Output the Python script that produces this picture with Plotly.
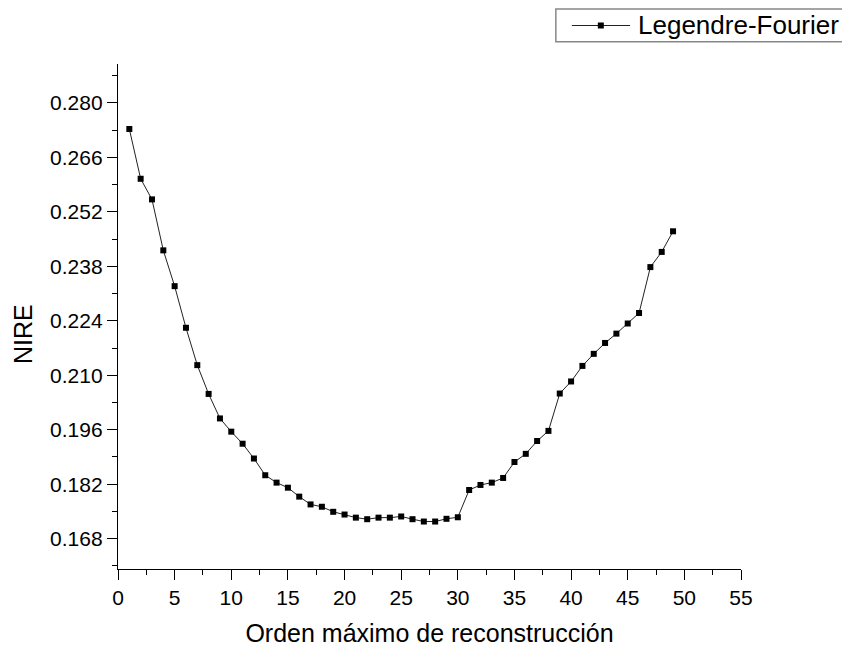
import plotly.graph_objects as go

orden = list(range(1, 50))
nire = [0.2733, 0.2605, 0.2552, 0.2421, 0.2329, 0.2222, 0.2126, 0.2052, 0.1989, 0.1955,
        0.1924, 0.1886, 0.1843, 0.1824, 0.1811, 0.1788, 0.1768, 0.1762, 0.1749, 0.1742,
        0.1734, 0.1730, 0.1734, 0.1734, 0.1737, 0.1730, 0.1724, 0.1724, 0.1731, 0.1735,
        0.1805, 0.1818, 0.1824, 0.1836, 0.1877, 0.1898, 0.1931, 0.1957, 0.2053, 0.2084,
        0.2124, 0.2155, 0.2183, 0.2207, 0.2233, 0.2260, 0.2378, 0.2417, 0.2470]

series_name = "Legendre-Fourier"
x_title = "Orden máximo de reconstrucción"
y_title = "NIRE"

FONT = "Liberation Sans, Arial, Helvetica, sans-serif"

W, H = 842, 647
ML, MR, MT, MB = 117.5, 101, 64, 78
PW, PH = W - ML - MR, H - MT - MB


def px(xpix):
    return (xpix - ML) / PW


def py(ypix):
    return (H - MB - ypix) / PH


fig = go.Figure()
fig.add_trace(go.Scatter(
    x=orden, y=nire, mode="lines+markers", name=series_name,
    line=dict(color="#222222", width=1),
    marker=dict(symbol="square", size=6, color="black"),
    showlegend=False,
))

axis_common = dict(
    showline=True, linecolor="black", linewidth=1.4, mirror=False,
    showgrid=False, zeroline=False,
    ticks="outside", ticklen=10, tickwidth=1.4, tickcolor="black",
    tickfont=dict(family=FONT, size=21, color="black"),
)

# Legend drawn as a framed key in the top-right corner
legend_y = py(25.5)
shapes = [
    dict(type="rect", xref="paper", yref="paper",
         x0=px(555.7), x1=px(845), y0=py(41.7), y1=py(9),
         line=dict(color="#888888", width=1.5), fillcolor="white", layer="above"),
    dict(type="line", xref="paper", yref="paper",
         x0=px(571.7), x1=px(630), y0=legend_y, y1=legend_y,
         line=dict(color="#222222", width=1), layer="above"),
    dict(type="rect", xref="paper", yref="paper",
         x0=px(597.7), x1=px(603.7), y0=py(28.5), y1=py(22.5),
         line=dict(color="black", width=0), fillcolor="black", layer="above"),
]

fig.update_layout(
    width=W, height=H,
    paper_bgcolor="white", plot_bgcolor="white",
    margin=dict(l=ML, r=MR, t=MT, b=MB, autoexpand=False),
    font=dict(family=FONT, color="black"),
    showlegend=False,
    xaxis=dict(
        range=[0, 55], tick0=0, dtick=5,
        minor=dict(dtick=2.5, ticklen=5, tickwidth=1.4, tickcolor="black", ticks="outside"),
        title=dict(text=x_title, font=dict(family=FONT, size=25, color="black"), standoff=17),
        **axis_common,
    ),
    yaxis=dict(
        range=[0.1602, 0.2900], tick0=0.168, dtick=0.014, tickformat=".3f",
        minor=dict(dtick=0.007, ticklen=5, tickwidth=1.4, tickcolor="black", ticks="outside"),
        **axis_common,
    ),
    shapes=shapes,
    annotations=[
        dict(text=y_title, textangle=-90, xref="paper", yref="paper",
             x=px(22.5), y=py(334), xanchor="center", yanchor="middle", showarrow=False,
             font=dict(family=FONT, size=25, color="black")),
        dict(text=series_name, xref="paper", yref="paper",
             x=px(636), y=legend_y, xanchor="left", yanchor="middle", showarrow=False,
             font=dict(family=FONT, size=26, color="black")),
    ],
)

fig.write_html("out.html")
